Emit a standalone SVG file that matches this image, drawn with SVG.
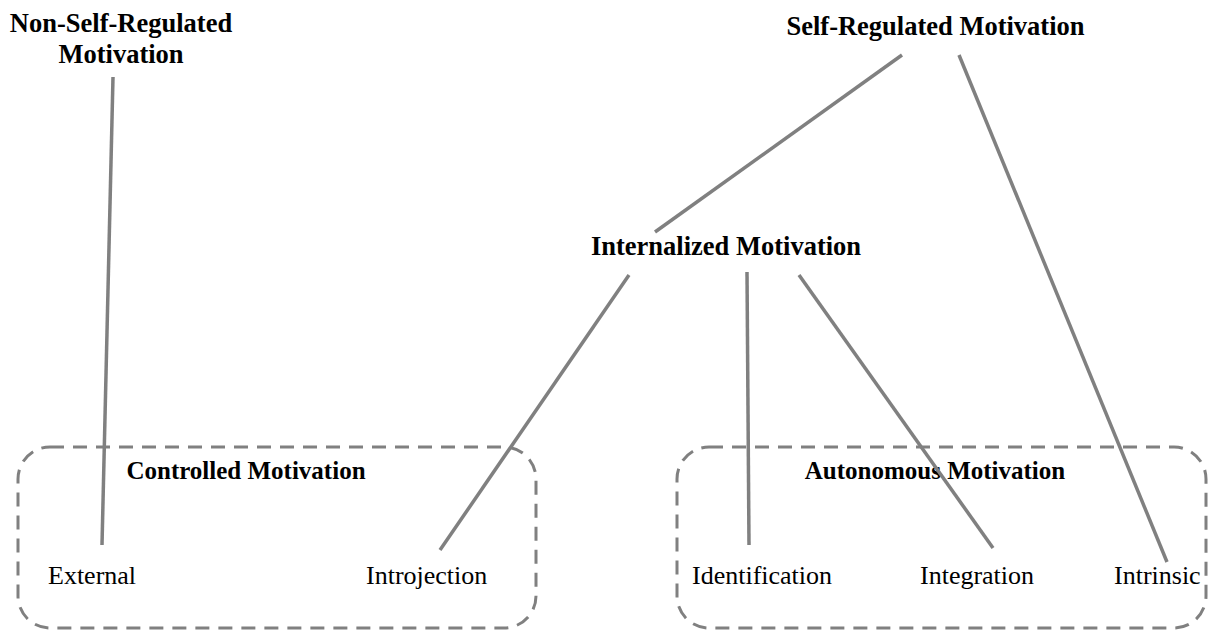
<svg xmlns="http://www.w3.org/2000/svg" width="1211" height="632" viewBox="0 0 1211 632">
<style>
.h{font-family:"Liberation Serif","Times New Roman",serif;font-weight:bold;font-size:26.5px;fill:#000;text-anchor:middle}
.g{font-family:"Liberation Serif","Times New Roman",serif;font-weight:bold;font-size:25px;fill:#000;text-anchor:middle}
.t{font-family:"Liberation Serif","Times New Roman",serif;font-size:26px;fill:#000}
.box{fill:none;stroke:#808080;stroke-width:3;stroke-dasharray:14 9}
.c{stroke:#808080;stroke-width:3.5;fill:none}
</style>
<rect width="1211" height="632" fill="#fff"/>
<g id="controlled">
<rect class="box" x="18" y="447" width="518" height="181" rx="32"/>
<text class="g" x="246" y="479">Controlled Motivation</text>
</g>
<g id="autonomous">
<rect class="box" x="677" y="447" width="529" height="181" rx="32"/>
<text class="g" x="935" y="479">Autonomous Motivation</text>
</g>
<g id="connectors">
<line class="c" x1="113" y1="77" x2="102" y2="545"/>
<line class="c" x1="902" y1="55" x2="655" y2="232"/>
<line class="c" x1="959" y1="55" x2="1167" y2="562"/>
<line class="c" x1="629" y1="275" x2="440" y2="550"/>
<line class="c" x1="747" y1="272" x2="749" y2="545"/>
<line class="c" x1="799" y1="275" x2="993" y2="548"/>
</g>
<g id="non-self-regulated">
<text class="h" x="121" y="32">Non-Self-Regulated</text>
<text class="h" x="121" y="63">Motivation</text>
</g>
<g id="self-regulated">
<text class="h" x="935.5" y="35">Self-Regulated Motivation</text>
</g>
<g id="internalized">
<text class="h" x="726" y="255">Internalized Motivation</text>
</g>
<g id="external"><text class="t" x="48" y="584">External</text></g>
<g id="introjection"><text class="t" x="366" y="584">Introjection</text></g>
<g id="identification"><text class="t" x="692" y="584">Identification</text></g>
<g id="integration"><text class="t" x="920" y="584">Integration</text></g>
<g id="intrinsic"><text class="t" x="1114" y="584">Intrinsic</text></g>
</svg>
